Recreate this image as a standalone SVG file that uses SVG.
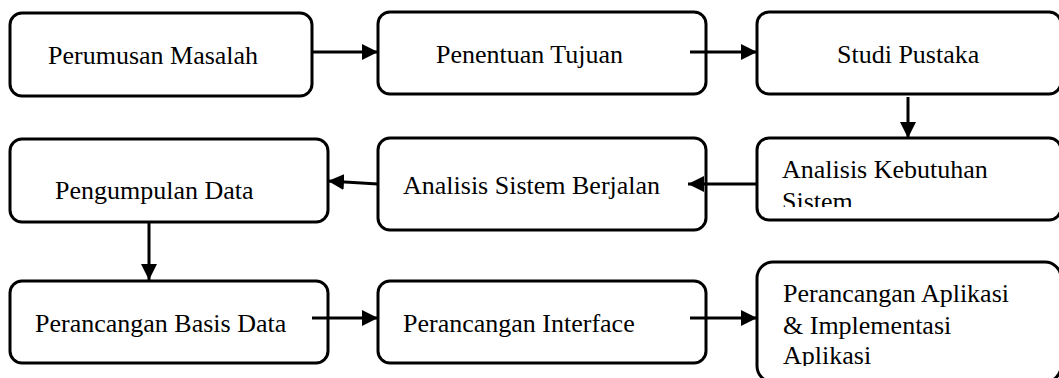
<svg xmlns="http://www.w3.org/2000/svg" width="1059" height="378" viewBox="0 0 1059 378">
<style>
.box{fill:#fff;stroke:#000;stroke-width:3}
.lbl{font-family:"Liberation Serif","Times New Roman",serif;font-size:26px;fill:#000}
.con{stroke:#000;stroke-width:3;fill:none}
</style>
<defs>
<marker id="ah" markerUnits="userSpaceOnUse" markerWidth="17" markerHeight="16" refX="16" refY="8" orient="auto">
<path d="M0,0 L16,8 L0,16 z" fill="#000"/>
</marker>
<clipPath id="c6"><rect x="757" y="138" width="304" height="69"/></clipPath>
<clipPath id="c9"><rect x="757" y="262" width="304" height="104"/></clipPath>
</defs>
<rect width="1059" height="378" fill="#fff"/>
<g id="n1"><rect class="box" x="10" y="13" width="302" height="83" rx="12"/><text class="lbl" x="48" y="64">Perumusan Masalah</text></g>
<g id="n2"><rect class="box" x="378" y="12" width="328" height="82" rx="12"/><text class="lbl" x="436" y="63">Penentuan Tujuan</text></g>
<g id="n3"><rect class="box" x="757" y="12" width="304" height="82" rx="12"/><text class="lbl" x="837" y="63">Studi Pustaka</text></g>
<g id="n4"><rect class="box" x="10" y="139" width="318" height="83" rx="12"/><text class="lbl" x="55" y="199">Pengumpulan Data</text></g>
<g id="n5"><rect class="box" x="378" y="138" width="328" height="92" rx="12"/><text class="lbl" x="403" y="194">Analisis Sistem Berjalan</text></g>
<g id="n6"><rect class="box" x="757" y="138" width="304" height="82" rx="12"/><g clip-path="url(#c6)"><text class="lbl" x="782" y="178">Analisis Kebutuhan</text><text class="lbl" x="782" y="210">Sistem</text></g></g>
<g id="n7"><rect class="box" x="10" y="281" width="318" height="82" rx="12"/><text class="lbl" x="35" y="332">Perancangan Basis Data</text></g>
<g id="n8"><rect class="box" x="378" y="281" width="328" height="82" rx="12"/><text class="lbl" x="403" y="332">Perancangan Interface</text></g>
<g id="n9"><rect class="box" x="757" y="262" width="304" height="120" rx="16"/><g clip-path="url(#c9)"><text class="lbl" x="783" y="302">Perancangan Aplikasi</text><text class="lbl" x="783" y="334">&amp; Implementasi</text><text class="lbl" x="783" y="364">Aplikasi</text></g></g>
<g id="connectors">
<line class="con" x1="312" y1="52" x2="378" y2="52" marker-end="url(#ah)"/>
<line class="con" x1="690" y1="52" x2="757" y2="52" marker-end="url(#ah)"/>
<line class="con" x1="908" y1="97" x2="908" y2="138" marker-end="url(#ah)"/>
<line class="con" x1="757" y1="184" x2="688" y2="184" marker-end="url(#ah)"/>
<line class="con" x1="378" y1="184" x2="328" y2="181" marker-end="url(#ah)"/>
<line class="con" x1="149" y1="222" x2="149" y2="280" marker-end="url(#ah)"/>
<line class="con" x1="312" y1="318" x2="378" y2="318" marker-end="url(#ah)"/>
<line class="con" x1="690" y1="318" x2="757" y2="318" marker-end="url(#ah)"/>
</g>
</svg>
